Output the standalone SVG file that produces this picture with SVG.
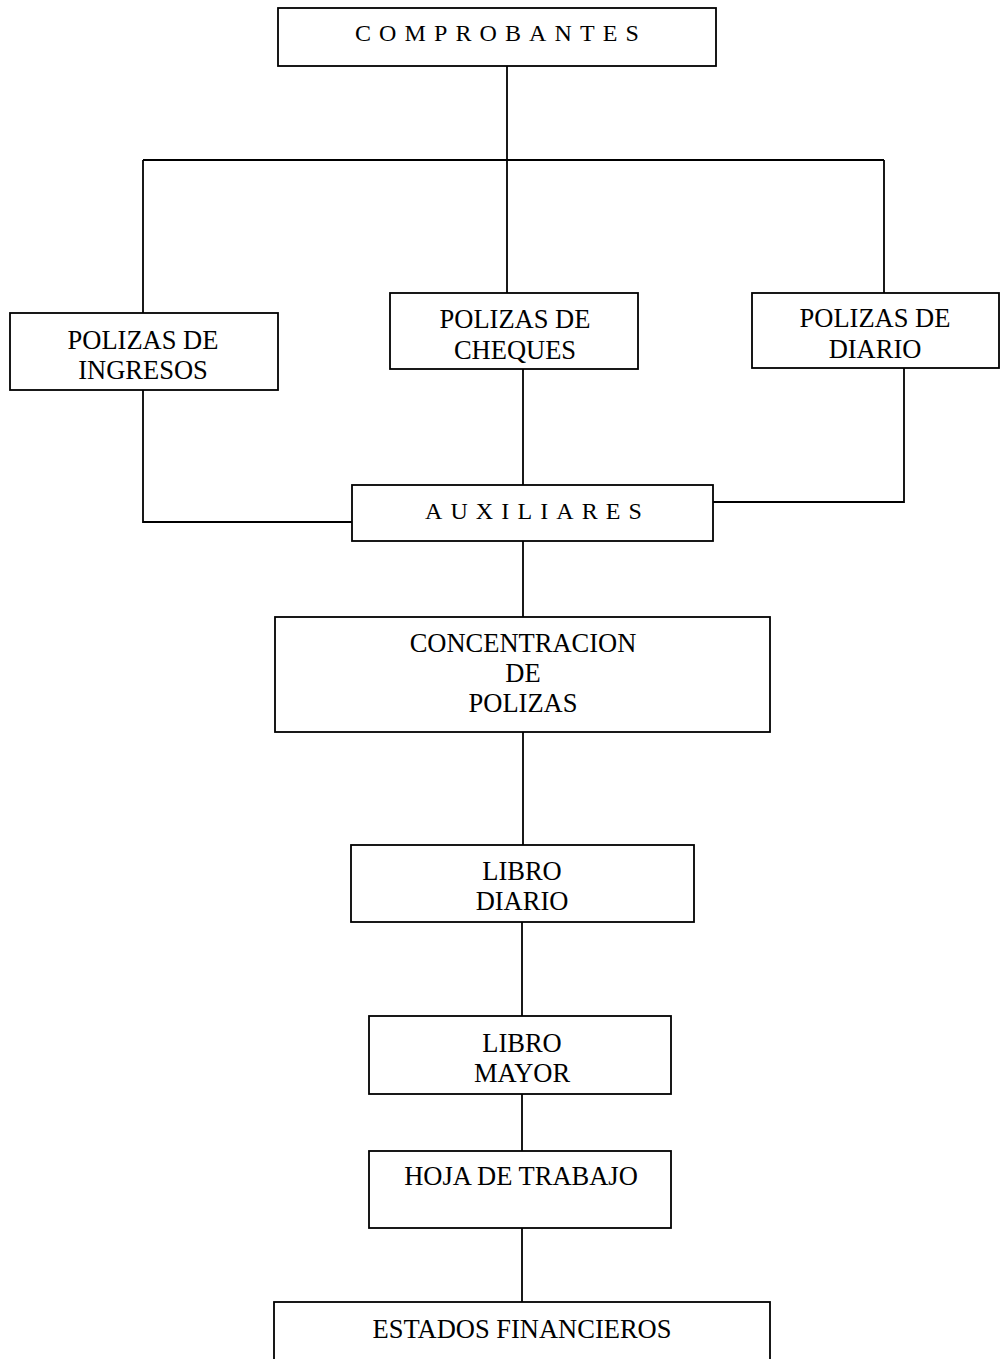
<svg xmlns="http://www.w3.org/2000/svg" width="1000" height="1359" viewBox="0 0 1000 1359">
<style>
.box{fill:#fff;stroke:#000;stroke-width:1.8}
.t{font-family:"Liberation Serif","Times New Roman",serif;font-size:26.5px;fill:#000;text-anchor:middle}
.sp{font-family:"Liberation Serif","Times New Roman",serif;font-size:24px;fill:#000}
.c{fill:none;stroke:#000;stroke-width:1.8}
</style>
<rect width="1000" height="1359" fill="#fff"/>
<g id="connectors">
<path class="c" d="M507 66V293"/>
<path class="c" d="M143 160H884"/>
<path class="c" d="M143 160V313"/>
<path class="c" d="M884 160V293"/>
<path class="c" d="M523 369V485"/>
<path class="c" d="M143 390V522H352"/>
<path class="c" d="M904 368V502H713"/>
<path class="c" d="M523 541V617"/>
<path class="c" d="M523 732V845"/>
<path class="c" d="M522 922V1016"/>
<path class="c" d="M522 1094V1151"/>
<path class="c" d="M522 1228V1302"/>
</g>
<g id="comprobantes">
<rect class="box" x="278" y="8" width="438" height="58"/>
<text class="sp" x="355" y="41" letter-spacing="8.1">COMPROBANTES</text>
</g>
<g id="polizas-ingresos">
<rect class="box" x="10" y="313" width="268" height="77"/>
<text class="t" x="143" y="349">POLIZAS DE</text>
<text class="t" x="143" y="379">INGRESOS</text>
</g>
<g id="polizas-cheques">
<rect class="box" x="390" y="293" width="248" height="76"/>
<text class="t" x="515" y="328">POLIZAS DE</text>
<text class="t" x="515" y="359">CHEQUES</text>
</g>
<g id="polizas-diario">
<rect class="box" x="752" y="293" width="247" height="75"/>
<text class="t" x="875" y="327">POLIZAS DE</text>
<text class="t" x="875" y="358">DIARIO</text>
</g>
<g id="auxiliares">
<rect class="box" x="352" y="485" width="361" height="56"/>
<text class="sp" x="425" y="519" letter-spacing="8.1">AUXILIARES</text>
</g>
<g id="concentracion">
<rect class="box" x="275" y="617" width="495" height="115"/>
<text class="t" x="523" y="652">CONCENTRACION</text>
<text class="t" x="523" y="682">DE</text>
<text class="t" x="523" y="712">POLIZAS</text>
</g>
<g id="libro-diario">
<rect class="box" x="351" y="845" width="343" height="77"/>
<text class="t" x="522" y="880">LIBRO</text>
<text class="t" x="522" y="910">DIARIO</text>
</g>
<g id="libro-mayor">
<rect class="box" x="369" y="1016" width="302" height="78"/>
<text class="t" x="522" y="1052">LIBRO</text>
<text class="t" x="522" y="1082">MAYOR</text>
</g>
<g id="hoja-trabajo">
<rect class="box" x="369" y="1151" width="302" height="77"/>
<text class="t" x="521" y="1185">HOJA DE TRABAJO</text>
</g>
<g id="estados-financieros">
<rect class="box" x="274" y="1302" width="496" height="80"/>
<text class="t" x="522" y="1338">ESTADOS FINANCIEROS</text>
</g>
</svg>
